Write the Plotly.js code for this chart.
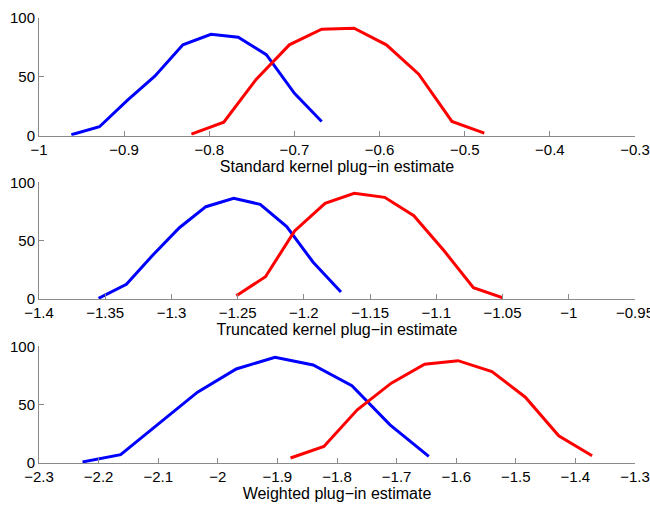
<!DOCTYPE html>
<html>
<head>
<meta charset="utf-8">
<script src="https://cdn.plot.ly/plotly-3.0.1.min.js"></script>
<style>html,body{margin:0;padding:0;background:#fff;}#chart{width:650px;height:506px;}</style>
</head>
<body>
<div id="chart"></div>
<script>
// Panel 1: Standard kernel plug-in estimate
const std_blue_x = [-0.962, -0.929, -0.896, -0.864, -0.831, -0.798, -0.766, -0.733, -0.700, -0.668];
const std_blue_y = [0.8, 7.6, 30.3, 50.6, 77.2, 86.2, 83.7, 68.8, 36.0, 12.1];
const std_red_x  = [-0.821, -0.783, -0.745, -0.706, -0.668, -0.630, -0.592, -0.554, -0.515, -0.477];
const std_red_y  = [1.4, 11.5, 47.8, 77.2, 90.5, 91.3, 77.2, 52.2, 12.1, 2.2];

// Panel 2: Truncated kernel plug-in estimate
const trunc_blue_x = [-1.355, -1.334, -1.314, -1.294, -1.274, -1.253, -1.233, -1.213, -1.193, -1.172];
const trunc_blue_y = [0.6, 12.6, 37.7, 61.1, 79.1, 86.3, 81.1, 62.0, 31.5, 6.0];
const trunc_red_x  = [-1.251, -1.229, -1.207, -1.184, -1.162, -1.139, -1.117, -1.094, -1.072, -1.050];
const trunc_red_y  = [2.9, 19.1, 58.3, 82.0, 90.6, 87.1, 71.4, 41.1, 9.7, 1.1];

// Panel 3: Weighted plug-in estimate
const wt_blue_x = [-2.227, -2.163, -2.098, -2.034, -1.969, -1.904, -1.840, -1.775, -1.711, -1.646];
const wt_blue_y = [0.9, 7.1, 34.2, 60.7, 80.6, 90.6, 84.0, 66.2, 32.7, 5.6];
const wt_red_x  = [-1.878, -1.822, -1.766, -1.709, -1.653, -1.597, -1.540, -1.484, -1.428, -1.372];
const wt_red_y  = [4.3, 14.2, 45.6, 68.4, 84.6, 87.7, 78.3, 56.4, 23.3, 6.2];

// Axis ticks and titles
const std_xticks   = [-1, -0.9, -0.8, -0.7, -0.6, -0.5, -0.4, -0.3];
const trunc_xticks = [-1.4, -1.35, -1.3, -1.25, -1.2, -1.15, -1.1, -1.05, -1, -0.95];
const wt_xticks    = [-2.3, -2.2, -2.1, -2, -1.9, -1.8, -1.7, -1.6, -1.5, -1.4, -1.3];
const yTicks = [0, 50, 100];
const xTitles = ["Standard kernel plug\u2212in estimate", "Truncated kernel plug\u2212in estimate", "Weighted plug\u2212in estimate"];

const BLUE = "#0000ff", RED = "#ff0000", AX = "#8a8a8a";
const FONT = "Liberation Sans, Arial, sans-serif";

function fmt(v) { return String(v).replace("-", "\u2212"); }

function line(x, y, color, ax) {
  return {x: x, y: y, type: "scatter", mode: "lines", xaxis: "x" + ax, yaxis: "y" + ax,
          line: {color: color, width: 3}, hoverinfo: "skip", showlegend: false};
}

const data = [
  line(std_blue_x, std_blue_y, BLUE, ""), line(std_red_x, std_red_y, RED, ""),
  line(trunc_blue_x, trunc_blue_y, BLUE, "2"), line(trunc_red_x, trunc_red_y, RED, "2"),
  line(wt_blue_x, wt_blue_y, BLUE, "3"), line(wt_red_x, wt_red_y, RED, "3")
];

function xa(ticks, title, anchor, standoff) {
  return {range: [ticks[0], ticks[ticks.length - 1]], tickvals: ticks, ticktext: ticks.map(fmt),
    anchor: anchor, domain: [0, 1], ticklabeloverflow: "allow",
    showline: true, linecolor: AX, linewidth: 1, ticks: "inside", ticklen: 5, tickcolor: AX,
    showgrid: false, zeroline: false, tickfont: {family: FONT, size: 15, color: "#000"},
    title: {text: title, font: {family: FONT, size: 16, color: "#000"}, standoff: standoff}};
}
function ya(dom, anchor) {
  return {range: [0, 100], tickvals: yTicks, anchor: anchor, domain: dom,
    showline: true, linecolor: AX, linewidth: 1, ticks: "inside", ticklen: 5, tickcolor: AX,
    showgrid: false, zeroline: false, tickfont: {family: FONT, size: 15, color: "#000"}};
}

const layout = {
  width: 650, height: 506,
  margin: {l: 39, r: 15, t: 18, b: 43},
  paper_bgcolor: "#fff", plot_bgcolor: "#fff",
  showlegend: false,
  xaxis: xa(std_xticks, xTitles[0], "y", 3), yaxis: ya([0.7355, 1], "x"),
  xaxis2: xa(trunc_xticks, xTitles[1], "y2", 3), yaxis2: ya([0.3685, 0.6308], "x2"),
  xaxis3: xa(wt_xticks, xTitles[2], "y3", 1), yaxis3: ya([0, 0.2622], "x3")
};

Plotly.newPlot("chart", data, layout, {staticPlot: true, displayModeBar: false});
</script>
</body>
</html>
